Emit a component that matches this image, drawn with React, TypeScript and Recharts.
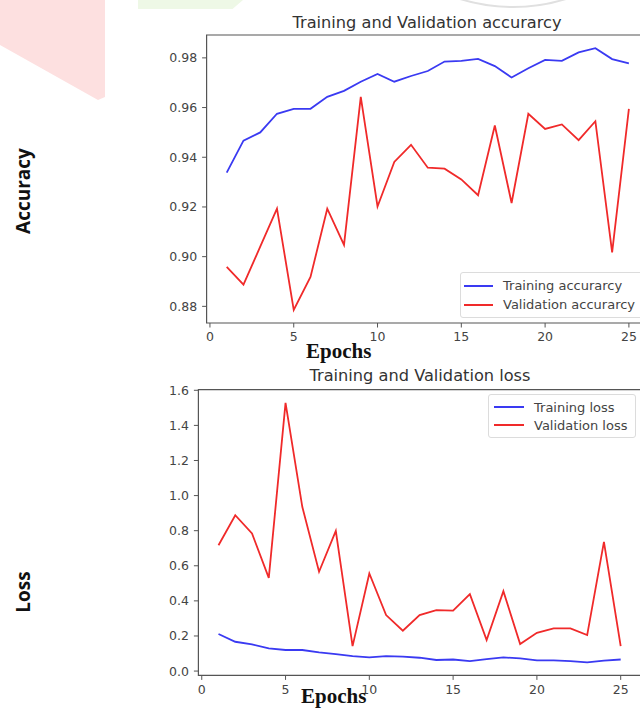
import React from "react";
import {
  Legend,
  Line,
  LineChart,
  ReferenceArea,
  XAxis,
  YAxis,
} from "recharts";

const epochs = [1, 2, 3, 4, 5, 6, 7, 8, 9, 10, 11, 12, 13, 14, 15, 16, 17, 18, 19, 20, 21, 22, 23, 24, 25];

const trainAcc = [
  0.9338, 0.9467, 0.95, 0.9575, 0.9595, 0.9595, 0.9643, 0.9667, 0.9704, 0.9735,
  0.9704, 0.9727, 0.9747, 0.9785, 0.9788, 0.9796, 0.9767, 0.9721, 0.9758, 0.9792,
  0.9788, 0.9822, 0.9839, 0.9795, 0.9778,
];
const valAcc = [
  0.8959, 0.8887, 0.904, 0.9193, 0.8786, 0.8918, 0.9193, 0.9047, 0.9643, 0.9202,
  0.9381, 0.945, 0.9358, 0.9354, 0.9311, 0.9247, 0.9528, 0.9216, 0.9575, 0.9514,
  0.9532, 0.9469, 0.9545, 0.9017, 0.9595,
];

const trainLoss = [
  0.211, 0.167, 0.152, 0.129, 0.12, 0.12, 0.106, 0.097, 0.085, 0.078,
  0.085, 0.082, 0.076, 0.063, 0.066, 0.057, 0.068, 0.078, 0.072, 0.061,
  0.061, 0.057, 0.049, 0.059, 0.066,
];
const valLoss = [
  0.717, 0.888, 0.784, 0.531, 1.528, 0.936, 0.566, 0.799, 0.142, 0.556,
  0.319, 0.23, 0.319, 0.347, 0.344, 0.438, 0.177, 0.455, 0.154, 0.218,
  0.243, 0.243, 0.205, 0.736, 0.142,
];

const xTicks = [0, 5, 10, 15, 20, 25];
const accTicks = [0.88, 0.9, 0.92, 0.94, 0.96, 0.98];
const lossTicks = [0, 0.2, 0.4, 0.6, 0.8, 1.0, 1.2, 1.4, 1.6];

const xDomain: [number, number] = [-0.2, 26.2];
const accDomain: [number, number] = [0.8733, 0.9892];
const lossDomain: [number, number] = [-0.0247, 1.6034];

const accData = epochs.map((e, i) => ({ epoch: e, train: trainAcc[i], val: valAcc[i] }));
const lossData = epochs.map((e, i) => ({ epoch: e, train: trainLoss[i], val: valLoss[i] }));

const BLUE = "#3a3af2";
const RED = "#f02a2a";
const SPINE = "#555";
const tickStyle = { fill: "#444", fontSize: 12.5 };

function makeLegend(padLeft: number, lineW: number, rowH: number) {
  return (props: any) => {
    const items = props.payload || [];
    return (
      <div
        style={{
          border: "1px solid #dcdcdc",
          borderRadius: 3,
          background: "rgba(255,255,255,0.92)",
          padding: `3px 8px 3px ${padLeft}px`,
          fontSize: 13,
          color: "#444",
          whiteSpace: "nowrap",
        }}
      >
        {items.map((it: any) => (
          <div key={it.value} style={{ display: "flex", alignItems: "center", height: rowH }}>
            <span style={{ width: lineW, height: 2, background: it.color, marginRight: 10 }} />
            <span>{it.value}</span>
          </div>
        ))}
      </div>
    );
  };
}

const textAbs: React.CSSProperties = { position: "absolute", whiteSpace: "nowrap" };

export default function App() {
  return (
    <div
      style={{
        position: "fixed",
        left: 0,
        top: 0,
        width: 640,
        height: 708,
        overflow: "hidden",
        background: "#fff",
        fontFamily: "'DejaVu Sans', sans-serif",
      }}
    >
      {/* page decorations from the scan */}
      <div
        style={{
          position: "absolute",
          left: 0,
          top: 0,
          width: 105,
          height: 100,
          background: "#fde0e0",
          clipPath: "polygon(0 0, 105px 0, 105px 97px, 98px 100px, 0 45px)",
        }}
      />
      <div
        style={{
          position: "absolute",
          left: 138,
          top: 0,
          width: 105,
          height: 9,
          background: "#eef8e6",
          clipPath: "polygon(0 0, 100% 0, 90% 100%, 0 100%)",
        }}
      />
      <div
        style={{
          position: "absolute",
          left: 333,
          top: -352,
          width: 360,
          height: 360,
          borderRadius: "50%",
          border: "2px solid #e0e0e0",
          boxSizing: "border-box",
        }}
      />

      <div
        style={{
          ...textAbs,
          left: 23,
          top: 191,
          transform: "translate(-50%, -50%) rotate(-90deg)",
          fontFamily: "'Open Sans', sans-serif",
          fontWeight: 700,
          fontSize: 19,
          color: "#111",
        }}
      >
        Accuracy
      </div>
      <div
        style={{
          ...textAbs,
          left: 23,
          top: 592,
          transform: "translate(-50%, -50%) rotate(-90deg)",
          fontFamily: "'Open Sans', sans-serif",
          fontWeight: 700,
          fontSize: 19,
          color: "#111",
        }}
      >
        Loss
      </div>

      {/* accuracy chart */}
      <div style={{ position: "absolute", left: 0, top: 0 }}>
        <LineChart
          width={660}
          height={360}
          data={accData}
          margin={{ top: 35, right: 11, bottom: 7, left: 146.6 }}
          style={{ overflow: "visible" }}
        >
          <XAxis
            type="number"
            dataKey="epoch"
            domain={xDomain}
            ticks={xTicks}
            allowDataOverflow
            height={30}
            axisLine={false}
            tickLine={{ stroke: SPINE }}
            tickSize={4.5}
            tickMargin={4.5}
            tick={tickStyle}
          />
          <YAxis
            type="number"
            domain={accDomain}
            ticks={accTicks}
            allowDataOverflow
            width={60}
            axisLine={false}
            tickLine={{ stroke: SPINE }}
            tickSize={4.5}
            tickMargin={5}
            tick={tickStyle}
            tickFormatter={(v: number) => v.toFixed(2)}
          />
          <ReferenceArea
            x1={xDomain[0]}
            x2={xDomain[1]}
            y1={accDomain[0]}
            y2={accDomain[1]}
            fill="none"
            stroke={SPINE}
            strokeWidth={1.2}
          />
          <Line
            dataKey="train"
            name="Training accurarcy"
            stroke={BLUE}
            strokeWidth={1.8}
            dot={false}
            isAnimationActive={false}
          />
          <Line
            dataKey="val"
            name="Validation accurarcy"
            stroke={RED}
            strokeWidth={1.8}
            dot={false}
            isAnimationActive={false}
          />
          <Legend
            layout="vertical"
            align="center"
            verticalAlign="middle"
            wrapperStyle={{ left: 460, top: 272, width: "auto" }}
            content={makeLegend(3, 29, 19)}
          />
        </LineChart>
      </div>

      <div style={{ ...textAbs, left: 127, width: 600, top: 13, textAlign: "center", fontSize: 16.2, lineHeight: "19px", color: "#333" }}>
        Training and Validation accurarcy
      </div>
      <div
        style={{
          ...textAbs,
          left: 306,
          top: 341,
          fontFamily: "'Liberation Serif', serif",
          fontWeight: 700,
          fontSize: 21,
          lineHeight: 1,
          color: "#111",
        }}
      >
        Epochs
      </div>

      {/* loss chart */}
      <div style={{ position: "absolute", left: 0, top: 340 }}>
        <LineChart
          width={660}
          height={368}
          data={lossData}
          margin={{ top: 49.7, right: 19.2, bottom: 2.6, left: 138.4 }}
          style={{ overflow: "visible" }}
        >
          <XAxis
            type="number"
            dataKey="epoch"
            domain={xDomain}
            ticks={xTicks}
            allowDataOverflow
            height={30}
            axisLine={false}
            tickLine={{ stroke: SPINE }}
            tickSize={4.5}
            tickMargin={5}
            tick={tickStyle}
          />
          <YAxis
            type="number"
            domain={lossDomain}
            ticks={lossTicks}
            allowDataOverflow
            width={60}
            axisLine={false}
            tickLine={{ stroke: SPINE }}
            tickSize={4.5}
            tickMargin={5}
            tick={tickStyle}
            tickFormatter={(v: number) => v.toFixed(1)}
          />
          <ReferenceArea
            x1={xDomain[0]}
            x2={xDomain[1]}
            y1={lossDomain[0]}
            y2={lossDomain[1]}
            fill="none"
            stroke={SPINE}
            strokeWidth={1.2}
          />
          <Line
            dataKey="train"
            name="Training loss"
            stroke={BLUE}
            strokeWidth={1.8}
            dot={false}
            isAnimationActive={false}
          />
          <Line
            dataKey="val"
            name="Validation loss"
            stroke={RED}
            strokeWidth={1.8}
            dot={false}
            isAnimationActive={false}
          />
          <Legend
            layout="vertical"
            align="center"
            verticalAlign="middle"
            wrapperStyle={{ left: 488, top: 54, width: "auto" }}
            content={makeLegend(5, 30, 18)}
          />
        </LineChart>
      </div>

      <div style={{ ...textAbs, left: 120, width: 600, top: 366, textAlign: "center", fontSize: 16.2, lineHeight: "19px", color: "#333" }}>
        Training and Validation loss
      </div>
      <div
        style={{
          ...textAbs,
          left: 301,
          top: 686,
          fontFamily: "'Liberation Serif', serif",
          fontWeight: 700,
          fontSize: 21,
          lineHeight: 1,
          color: "#111",
        }}
      >
        Epochs
      </div>
    </div>
  );
}
